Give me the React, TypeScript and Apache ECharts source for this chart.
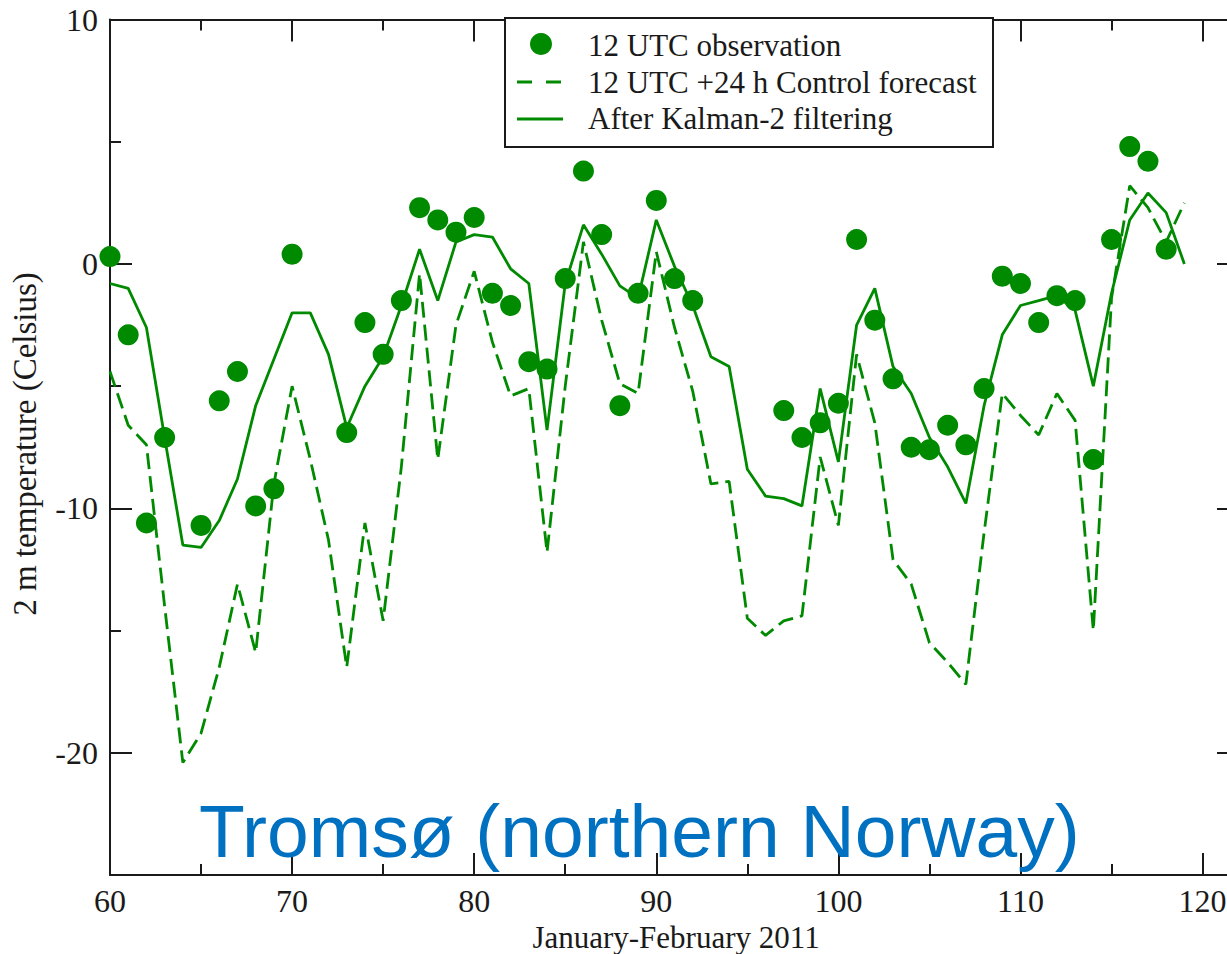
import React, { useEffect, useRef } from "react";
import * as echarts from "echarts";

// ---- data (day number, Jan-Feb 2011) ----
const days = [
  60, 61, 62, 63, 64, 65, 66, 67, 68, 69,
  70, 71, 72, 73, 74, 75, 76, 77, 78, 79,
  80, 81, 82, 83, 84, 85, 86, 87, 88, 89,
  90, 91, 92, 93, 94, 95, 96, 97, 98, 99,
  100, 101, 102, 103, 104, 105, 106, 107, 108, 109,
  110, 111, 112, 113, 114, 115, 116, 117, 118, 119,
];

// 12 UTC observation (null = no observation)
const observation = [
  0.3, -2.9, -10.6, -7.1, null, -10.7, -5.6, -4.4, -9.9, -9.2,
  0.4, null, null, -6.9, -2.4, -3.7, -1.5, 2.3, 1.8, 1.3,
  1.9, -1.2, -1.7, -4.0, -4.3, -0.6, 3.8, 1.2, -5.8, -1.2,
  2.6, -0.6, -1.5, null, null, null, null, -6.0, -7.1, -6.5,
  -5.7, 1.0, -2.3, -4.7, -7.5, -7.6, -6.6, -7.4, -5.1, -0.5,
  -0.8, -2.4, -1.3, -1.5, -8.0, 1.0, 4.8, 4.2, 0.6, null,
];

// 12 UTC +24 h Control forecast
const controlForecast = [
  -4.4, -6.6, -7.4, -14.0, -20.4, -19.2, -16.5, -13.1, -15.9, -9.0,
  -5.0, -8.0, -11.3, -16.5, -10.6, -14.6, -8.3, -0.4, -8.0, -2.5,
  -0.3, -3.2, -5.4, -5.1, -11.8, -5.0, 0.9, -2.3, -4.9, -5.3,
  0.5, -2.6, -5.2, -9.0, -8.9, -14.5, -15.2, -14.6, -14.4, -7.9,
  -10.7, -3.7, -6.5, -12.1, -13.1, -15.5, -16.3, -17.2, -11.0, -5.3,
  -6.2, -7.0, -5.3, -6.4, -15.0, -1.4, 3.2, 2.3, 0.9, 2.5,
];

// After Kalman-2 filtering
const kalmanFiltered = [
  -0.8, -1.0, -2.6, -7.1, -11.5, -11.6, -10.5, -8.8, -5.8, -3.9,
  -2.0, -2.0, -3.7, -6.7, -5.0, -3.8, -1.7, 0.6, -1.5, 0.9,
  1.2, 1.1, -0.2, -0.8, -6.8, -0.8, 1.6, 0.4, -0.9, -1.4,
  1.8, -0.1, -1.7, -3.8, -4.2, -8.4, -9.5, -9.6, -9.9, -5.1,
  -8.1, -2.5, -1.0, -4.2, -5.3, -7.1, -8.3, -9.8, -5.8, -2.9,
  -1.7, -1.5, -1.3, -1.9, -5.0, -1.2, 1.8, 2.9, 2.1, 0.0,
];

const xMajorTicks = [60, 70, 80, 90, 100, 110, 120];
const xMinorTicks = [65, 75, 85, 95, 105, 115];
const yMajorTicks = [-20, -10, 0, 10];
const yMinorTicks = [-15, -5, 5];

const legendLabels = [
  "12 UTC observation",
  "12 UTC +24 h Control forecast",
  "After Kalman-2 filtering",
];
const xTitle = "January-February 2011";
const yTitle = "2 m temperature (Celsius)";
const stationLabel = "Tromsø (northern Norway)";

// ---- styling ----
const GREEN = "#008a00";
const INK = "#1a1a1a";
const SERIF = "'Liberation Serif', 'Times New Roman', serif";
const SANS = "'Liberation Sans', Arial, sans-serif";
const X_MIN = 60;
const X_MAX = 122;
const Y_MIN = -25;
const Y_MAX = 10;
const CHART_W = 1240; // plot frame continues past the visible 1227px, as in the cropped original

function xAxisDef(gridIndex: number, position: string, ticks: number[], length: number, showLine: boolean, labels: boolean) {
  return {
    type: "value",
    gridIndex,
    position,
    min: X_MIN,
    max: X_MAX,
    axisLine: { show: showLine, onZero: false, lineStyle: { color: INK, width: 2 } },
    axisTick: { show: true, inside: true, length, customValues: ticks, lineStyle: { color: INK, width: 2 } },
    axisLabel: labels
      ? { show: true, customValues: xMajorTicks, margin: 10, fontFamily: SERIF, fontSize: 32, color: INK }
      : { show: false },
    splitLine: { show: false },
  };
}

function yAxisDef(gridIndex: number, position: string, ticks: number[], length: number, showLine: boolean, labels: boolean) {
  return {
    type: "value",
    gridIndex,
    position,
    min: Y_MIN,
    max: Y_MAX,
    axisLine: { show: showLine, onZero: false, lineStyle: { color: INK, width: 2 } },
    axisTick: { show: true, inside: true, length, customValues: ticks, lineStyle: { color: INK, width: 2 } },
    axisLabel: labels
      ? { show: true, customValues: yMajorTicks, margin: 12, fontFamily: SERIF, fontSize: 32, color: INK }
      : { show: false },
    splitLine: { show: false },
  };
}

export default function App() {
  const ref = useRef<HTMLDivElement>(null);

  useEffect(() => {
    if (!ref.current) return;
    const chart = echarts.init(ref.current, undefined, { renderer: "svg" });

    const obsData: number[][] = [];
    days.forEach((d, i) => {
      const v = observation[i];
      if (v !== null) obsData.push([d, v as number]);
    });
    const ctrlData = days.map((d, i) => [d, controlForecast[i]]);
    const kalData = days.map((d, i) => [d, kalmanFiltered[i]]);

    const gridRect = { left: 110, right: 1, top: 19.5, bottom: 79, containLabel: false };

    const option: any = {
      animation: false,
      backgroundColor: "#ffffff",
      grid: [gridRect, gridRect],
      xAxis: [
        xAxisDef(0, "bottom", xMajorTicks, 22, true, true),
        xAxisDef(0, "top", xMajorTicks, 22, true, false),
        xAxisDef(1, "bottom", xMinorTicks, 11, false, false),
        xAxisDef(1, "top", xMinorTicks, 11, false, false),
      ],
      yAxis: [
        yAxisDef(0, "left", yMajorTicks, 22, true, true),
        yAxisDef(0, "right", yMajorTicks, 22, true, false),
        yAxisDef(1, "left", yMinorTicks, 11, false, false),
        yAxisDef(1, "right", yMinorTicks, 11, false, false),
      ],
      series: [
        {
          name: legendLabels[1],
          type: "line",
          xAxisIndex: 0,
          yAxisIndex: 0,
          data: ctrlData,
          showSymbol: false,
          symbol: "none",
          lineStyle: { color: GREEN, width: 2.8, type: [16, 7] },
          z: 2,
        },
        {
          name: legendLabels[2],
          type: "line",
          xAxisIndex: 0,
          yAxisIndex: 0,
          data: kalData,
          showSymbol: false,
          symbol: "none",
          lineStyle: { color: GREEN, width: 2.8 },
          z: 3,
        },
        {
          name: legendLabels[0],
          type: "scatter",
          xAxisIndex: 0,
          yAxisIndex: 0,
          data: obsData,
          symbol: "circle",
          symbolSize: 21,
          itemStyle: { color: GREEN, opacity: 1 },
          z: 4,
        },
      ],
      graphic: [
        // legend box
        {
          type: "rect",
          shape: { x: 505, y: 18, width: 488, height: 129 },
          style: { fill: "#ffffff", stroke: INK, lineWidth: 2 },
          z: 10,
        },
        {
          type: "circle",
          shape: { cx: 541, cy: 44, r: 11 },
          style: { fill: GREEN },
          z: 11,
        },
        {
          type: "line",
          shape: { x1: 517, y1: 82, x2: 563, y2: 82 },
          style: { stroke: GREEN, lineWidth: 2.8, lineDash: [15, 14] },
          z: 11,
        },
        {
          type: "line",
          shape: { x1: 517, y1: 119, x2: 563, y2: 119 },
          style: { stroke: GREEN, lineWidth: 2.8 },
          z: 11,
        },
        ...legendLabels.map((t, i) => ({
          type: "text",
          x: 588,
          y: [45, 82, 118][i],
          style: {
            text: t,
            font: `31px ${SERIF}`,
            fill: INK,
            align: "left",
            verticalAlign: "middle",
          },
          z: 11,
        })),
        // station label
        {
          type: "text",
          x: 199,
          y: 831,
          style: {
            text: stationLabel,
            font: `75px ${SANS}`,
            fill: "#0070c0",
            align: "left",
            verticalAlign: "middle",
          },
          z: 12,
        },
        // axis titles
        {
          type: "text",
          x: 676,
          y: 937,
          style: {
            text: xTitle,
            font: `31px ${SERIF}`,
            fill: INK,
            align: "center",
            verticalAlign: "middle",
          },
          z: 11,
        },
        {
          type: "text",
          x: 25,
          y: 444,
          rotation: Math.PI / 2,
          style: {
            text: yTitle,
            font: `33px ${SERIF}`,
            fill: INK,
            align: "center",
            verticalAlign: "middle",
          },
          z: 11,
        },
      ],
    };

    chart.setOption(option);
    return () => chart.dispose();
  }, []);

  return (
    <div
      style={{
        position: "absolute",
        left: 0,
        top: 0,
        width: 1227,
        height: 954,
        overflow: "hidden",
        background: "#fff",
      }}
    >
      <div ref={ref} style={{ width: CHART_W, height: 954 }} />
    </div>
  );
}
